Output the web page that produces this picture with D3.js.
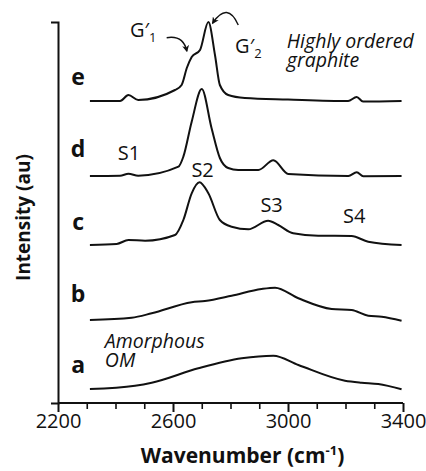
<!DOCTYPE html>
<html><head><meta charset="utf-8">
<script src="https://cdn.jsdelivr.net/npm/d3@7/dist/d3.min.js"></script>
<style>
html,body{margin:0;padding:0;background:#fff;}
svg{display:block;}
text{font-family:"Open Sans",sans-serif;fill:#111;}
</style></head><body>
<svg id="chart" width="426" height="471"></svg>
<script>
// ---- data (wavenumber cm^-1, relative intensity incl. stacking offset) ----
const seriesNames = ["a","b","c","d","e"];
const wnA = [2311,2468,2526,2688,2839,2949,3036,3198,3256,3314,3395];
const intA = [14,17.3,20.3,34.7,44.7,47.3,38,22.3,20.3,19,13.7];
const wnB = [2311,2456,2526,2665,2711,2804,2908,2955,3036,3152,3221,3279,3326,3395];
const intB = [83,85.3,89.7,100.7,102,107.3,114,115.3,104.7,94,93,87.3,86.3,82.3];
const wnC = [2311,2404,2445,2503,2607,2636,2665,2692,2723,2763,2804,2862,2931,2966,3018,3105,3221,3279,3395];
const intC = [158,159,163,162.3,168,183,209.7,220.7,209.7,183,176.3,173.7,182.3,178,169.7,167.3,167,161.3,158];
const wnD = [2311,2416,2445,2479,2619,2636,2665,2700,2734,2763,2792,2827,2897,2949,3001,3210,3239,3262,3395];
const intD = [227,227.3,229.3,227.3,236.3,246.3,281.3,314,275,245,235,233,233,242.7,229,227,230.7,226.7,227];
const wnE = [2311,2416,2445,2479,2607,2630,2648,2665,2694,2723,2746,2763,2792,2850,3000,3209,3239,3261,3395];
const intE = [302,302,308,303,313,318,335,346,353,381,348,318,308,305,303.5,302,306,301.5,302];
const majorTicks = [2200,2600,3000,3400];
const minorTicks = [2300,2400,2500,2700,2800,2900,3100,3200,3300];
// peak labels: [text, wavenumber, intensity]
const peakLabels = [["S1",2447,243],["S2",2703,226],["S3",2943,191],["S4",3230,180]];
const seriesLabelPos = [["a",30],["b",101],["c",173],["d",246],["e",318]];

const W = 426, H = 471;
const svg = d3.select("#chart");
const x = d3.scaleLinear().domain([2200,3400]).range([58,403]);
const y = d3.scaleLinear().domain([0,381]).range([403,22]);

// axes
const xMajor = d3.axisBottom(x).tickValues(majorTicks).tickSize(9).tickSizeOuter(0).tickFormat(d3.format("d"));
const gx = svg.append("g").attr("transform",`translate(0,${y(0)})`).call(xMajor);
gx.select(".domain").remove();
gx.selectAll(".tick line").attr("stroke","#111").attr("stroke-width",2);
gx.selectAll(".tick text").attr("dy",null).attr("y",25).style("font-size","20px").style("font-family","Open Sans").attr("fill","#111");
const xMinor = d3.axisBottom(x).tickValues(minorTicks).tickSize(6).tickSizeOuter(0).tickFormat("");
const gxm = svg.append("g").attr("transform",`translate(0,${y(0)})`).call(xMinor);
gxm.select(".domain").remove();
gxm.selectAll(".tick line").attr("stroke","#111").attr("stroke-width",1.6);

const yAxis = d3.axisLeft(y).tickValues([]).tickSizeOuter(7);
const gy = svg.append("g").attr("transform",`translate(${x(2200)},0)`).call(yAxis);
gy.select(".domain").attr("stroke","#111").attr("stroke-width",2);
// x baseline
svg.append("line").attr("x1",x(2200)).attr("x2",x(3400)).attr("y1",y(0)).attr("y2",y(0))
  .attr("stroke","#111").attr("stroke-width",2);

// curves
const line = d3.line().x(d=>x(d[0])).y(d=>y(d[1])).curve(d3.curveMonotoneX);
const all = [[wnA,intA],[wnB,intB],[wnC,intC],[wnD,intD],[wnE,intE]];
all.forEach(([w,v])=>{
  svg.append("path").datum(w.map((d,i)=>[d,v[i]])).attr("d",line)
    .attr("fill","none").attr("stroke","#111").attr("stroke-width",2).attr("stroke-linejoin","round");
});

// series letters
seriesLabelPos.forEach(([t,v])=>{
  svg.append("text").attr("x",x(2270)).attr("y",y(v)).attr("text-anchor","middle")
    .style("font-weight","bold").style("font-size","23px").text(t);
});
// peak labels
peakLabels.forEach(([t,w,v])=>{
  svg.append("text").attr("x",x(w)).attr("y",y(v)).attr("text-anchor","middle").style("font-size","20px").text(t);
});
// G' labels
function gLabel(w,v,sub){
  const t = svg.append("text").attr("x",x(w)).attr("y",y(v)).style("font-size","20px");
  t.append("tspan").text("G\u2032");
  t.append("tspan").attr("dy",5).style("font-size","13px").text(sub);
}
gLabel(2450,366.3,"1");
gLabel(2816,349.7,"2");
// italic notes
function note(w,v,lines){
  lines.forEach((s,i)=>{
    svg.append("text").attr("x",x(w)).attr("y",y(v)+i*18.4).style("font-style","italic").style("font-size","19.5px").text(s);
  });
}
note(2996,354.7,["Highly ordered","graphite"]);
note(2363,54.7,["Amorphous","OM"]);

// arrows
const defs = svg.append("defs");
defs.append("marker").attr("id","ah").attr("viewBox","0 0 10 10").attr("refX",8).attr("refY",5)
  .attr("markerWidth",7).attr("markerHeight",7).attr("markerUnits","userSpaceOnUse").attr("orient","auto")
  .append("path").attr("d","M0,0 L10,5 L0,10 L3,5 Z").attr("fill","#111");
function arrow(p0,c,p1){
  const p = d3.path();
  p.moveTo(x(p0[0]),y(p0[1]));
  p.quadraticCurveTo(x(c[0]),y(c[1]),x(p1[0]),y(p1[1]));
  svg.append("path").attr("d",p.toString()).attr("fill","none").attr("stroke","#111").attr("stroke-width",1.4).attr("marker-end","url(#ah)");
}
arrow([2578,365.3],[2636,368],[2648,352]);
arrow([2827,378],[2790,402],[2738,380]);

// axis titles
svg.append("text").attr("x",(x(2200)+x(3400))/2+12).attr("y",463).attr("text-anchor","middle")
  .style("font-weight","bold").style("font-size","21px")
  .call(t=>{t.append("tspan").text("Wavenumber (cm");t.append("tspan").attr("dy",-8).style("font-size","13px").text("-1");t.append("tspan").attr("dy",8).text(")");});
svg.append("text").attr("transform",`translate(30,${(y(0)+y(381))/2+5}) rotate(-90)`).attr("text-anchor","middle")
  .style("font-weight","bold").style("font-size","19px").text("Intensity (au)");
</script></body></html>
